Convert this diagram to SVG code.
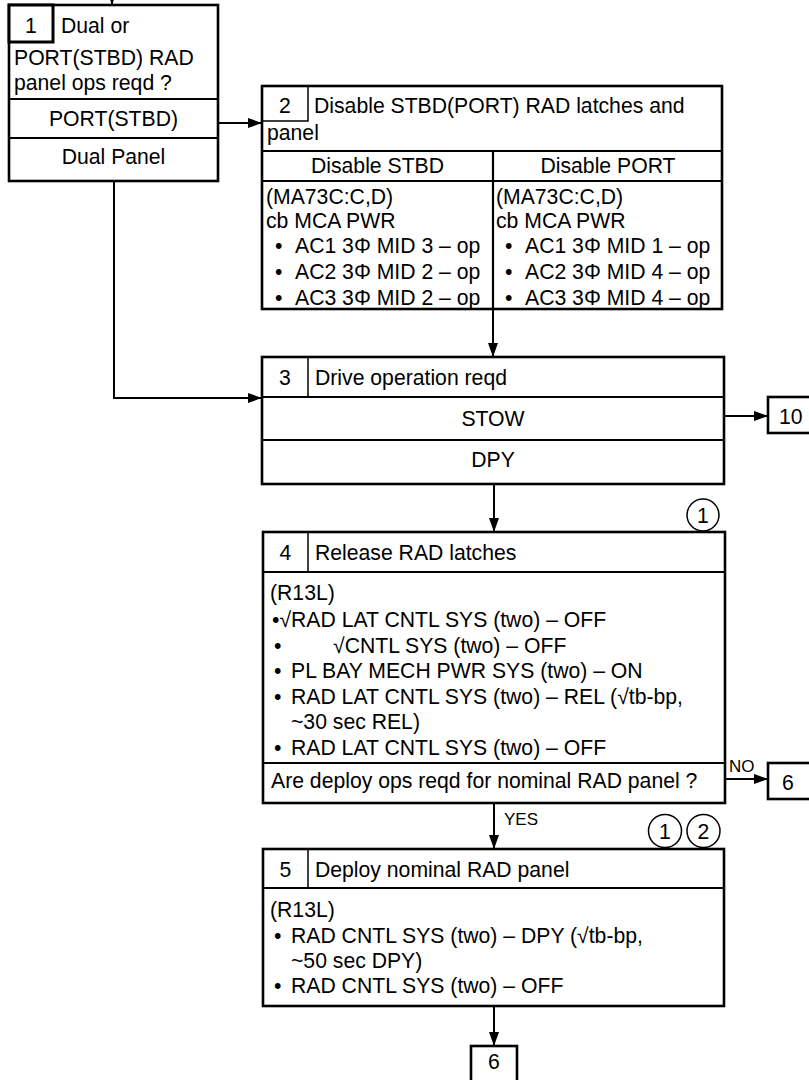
<svg xmlns="http://www.w3.org/2000/svg" width="809" height="1080" viewBox="0 0 809 1080">
<defs>
<marker id="ah" markerWidth="14" markerHeight="10" refX="14" refY="5" orient="auto" markerUnits="userSpaceOnUse">
<path d="M0,0 L14,5 L0,10 Z" fill="#000"/>
</marker>
<style>
text{font-family:"Liberation Sans",Arial,sans-serif;font-size:21.2px;fill:#000}
.c{text-anchor:middle}
.sm{font-size:17px}
.box{fill:#fff;stroke:#000;stroke-width:2.6}
.ln{stroke:#000;stroke-width:2.2;fill:none}
.thin{stroke:#000;stroke-width:1.5;fill:none}
.con{stroke:#000;stroke-width:2;fill:none;marker-end:url(#ah)}
.circ{fill:#fff;stroke:#000;stroke-width:1.5}
</style>
</defs>
<rect width="809" height="1080" fill="#fff"/>

<g id="connectors">
<line class="con" x1="112" y1="-10" x2="112" y2="5"/>
<line class="con" x1="218" y1="123" x2="262" y2="123"/>
<polyline class="con" points="114,181 114,398 262,398"/>
<line class="con" x1="493" y1="309" x2="493" y2="357"/>
<line class="con" x1="724" y1="416" x2="768" y2="416"/>
<line class="con" x1="494" y1="484" x2="494" y2="532"/>
<line class="con" x1="725" y1="779" x2="768" y2="779"/>
<text class="sm" x="729" y="772">NO</text>
<line class="con" x1="494" y1="803" x2="494" y2="849"/>
<text class="sm" x="504" y="825">YES</text>
<line class="con" x1="494" y1="1006" x2="494" y2="1046"/>
</g>

<g id="node1">
<rect class="box" x="9" y="5" width="209" height="176"/>
<rect x="9" y="5" width="44" height="37" fill="#fff" stroke="#000" stroke-width="3"/>
<text class="c" x="31" y="33">1</text>
<text x="61" y="33">Dual or</text>
<text x="14" y="65">PORT(STBD) RAD</text>
<text x="14" y="90">panel ops reqd ?</text>
<line class="ln" x1="9" y1="99" x2="218" y2="99"/>
<text class="c" x="113.5" y="126">PORT(STBD)</text>
<line class="ln" x1="9" y1="138" x2="218" y2="138"/>
<text class="c" x="113.5" y="164">Dual Panel</text>
</g>

<g id="node2">
<rect class="box" x="262" y="86" width="460" height="223"/>
<polyline class="thin" points="262,121 308,121 308,86"/>
<text class="c" x="285" y="113">2</text>
<text x="314" y="113">Disable STBD(PORT) RAD latches and</text>
<text x="267" y="140">panel</text>
<line class="ln" x1="262" y1="151" x2="722" y2="151"/>
<line class="ln" x1="262" y1="181" x2="722" y2="181"/>
<line class="ln" x1="493" y1="151" x2="493" y2="309"/>
<text class="c" x="377.5" y="173">Disable STBD</text>
<text class="c" x="608" y="173">Disable PORT</text>
<text x="266" y="204">(MA73C:C,D)</text>
<text x="266" y="228">cb MCA PWR</text>
<text x="275" y="253">•</text><text x="295" y="253">AC1 3Φ MID 3 – op</text>
<text x="275" y="279">•</text><text x="295" y="279">AC2 3Φ MID 2 – op</text>
<text x="275" y="305">•</text><text x="295" y="305">AC3 3Φ MID 2 – op</text>
<text x="496" y="204">(MA73C:C,D)</text>
<text x="496" y="228">cb MCA PWR</text>
<text x="505" y="253">•</text><text x="525" y="253">AC1 3Φ MID 1 – op</text>
<text x="505" y="279">•</text><text x="525" y="279">AC2 3Φ MID 4 – op</text>
<text x="505" y="305">•</text><text x="525" y="305">AC3 3Φ MID 4 – op</text>
</g>

<g id="node3">
<rect class="box" x="262" y="357" width="462" height="127"/>
<line class="thin" x1="308" y1="357" x2="308" y2="397"/>
<text class="c" x="285" y="385">3</text>
<text x="315" y="385">Drive operation reqd</text>
<line class="ln" x1="262" y1="397" x2="724" y2="397"/>
<text class="c" x="493" y="426">STOW</text>
<line class="ln" x1="262" y1="440" x2="724" y2="440"/>
<text class="c" x="493" y="467">DPY</text>
</g>

<g id="node10">
<rect class="box" x="768" y="397" width="50" height="36"/>
<text x="779" y="424">10</text>
</g>

<g id="circle1a">
<circle class="circ" cx="703" cy="515" r="16"/>
<text class="c" x="703" y="523">1</text>
</g>

<g id="node4">
<rect class="box" x="263" y="532" width="462" height="271"/>
<line class="thin" x1="308" y1="532" x2="308" y2="572"/>
<text class="c" x="285.5" y="560">4</text>
<text x="315" y="560">Release RAD latches</text>
<line class="ln" x1="263" y1="572" x2="725" y2="572"/>
<text x="270" y="600">(R13L)</text>
<text x="272" y="627">•√RAD LAT CNTL SYS (two) – OFF</text>
<text x="274" y="653">•</text><text x="333" y="653">√CNTL SYS (two) – OFF</text>
<text x="274" y="678">•</text><text x="291" y="678">PL BAY MECH PWR SYS (two) – ON</text>
<text x="274" y="704">•</text><text x="291" y="704">RAD LAT CNTL SYS (two) – REL (√tb-bp,</text>
<text x="291" y="729">~30 sec REL)</text>
<text x="274" y="755">•</text><text x="291" y="755">RAD LAT CNTL SYS (two) – OFF</text>
<line class="ln" x1="263" y1="763" x2="725" y2="763"/>
<text x="271" y="788">Are deploy ops reqd for nominal RAD panel ?</text>
</g>

<g id="node6a">
<rect class="box" x="768" y="763" width="50" height="36"/>
<text class="c" x="788" y="790">6</text>
</g>

<g id="circles5">
<circle class="circ" cx="665" cy="831" r="16.5"/>
<text class="c" x="665" y="839">1</text>
<circle class="circ" cx="703.5" cy="831" r="16.5"/>
<text class="c" x="703.5" y="839">2</text>
</g>

<g id="node5">
<rect class="box" x="263" y="849" width="461" height="157"/>
<line class="thin" x1="308" y1="849" x2="308" y2="888"/>
<text class="c" x="285.5" y="877">5</text>
<text x="315" y="877">Deploy nominal RAD panel</text>
<line class="ln" x1="263" y1="888" x2="724" y2="888"/>
<text x="270" y="917">(R13L)</text>
<text x="274" y="943">•</text><text x="291" y="943">RAD CNTL SYS (two) – DPY (√tb-bp,</text>
<text x="291" y="968">~50 sec DPY)</text>
<text x="274" y="993">•</text><text x="291" y="993">RAD CNTL SYS (two) – OFF</text>
</g>

<g id="node6b">
<rect class="box" x="471" y="1046" width="46" height="50"/>
<text class="c" x="494" y="1069">6</text>
</g>
</svg>
